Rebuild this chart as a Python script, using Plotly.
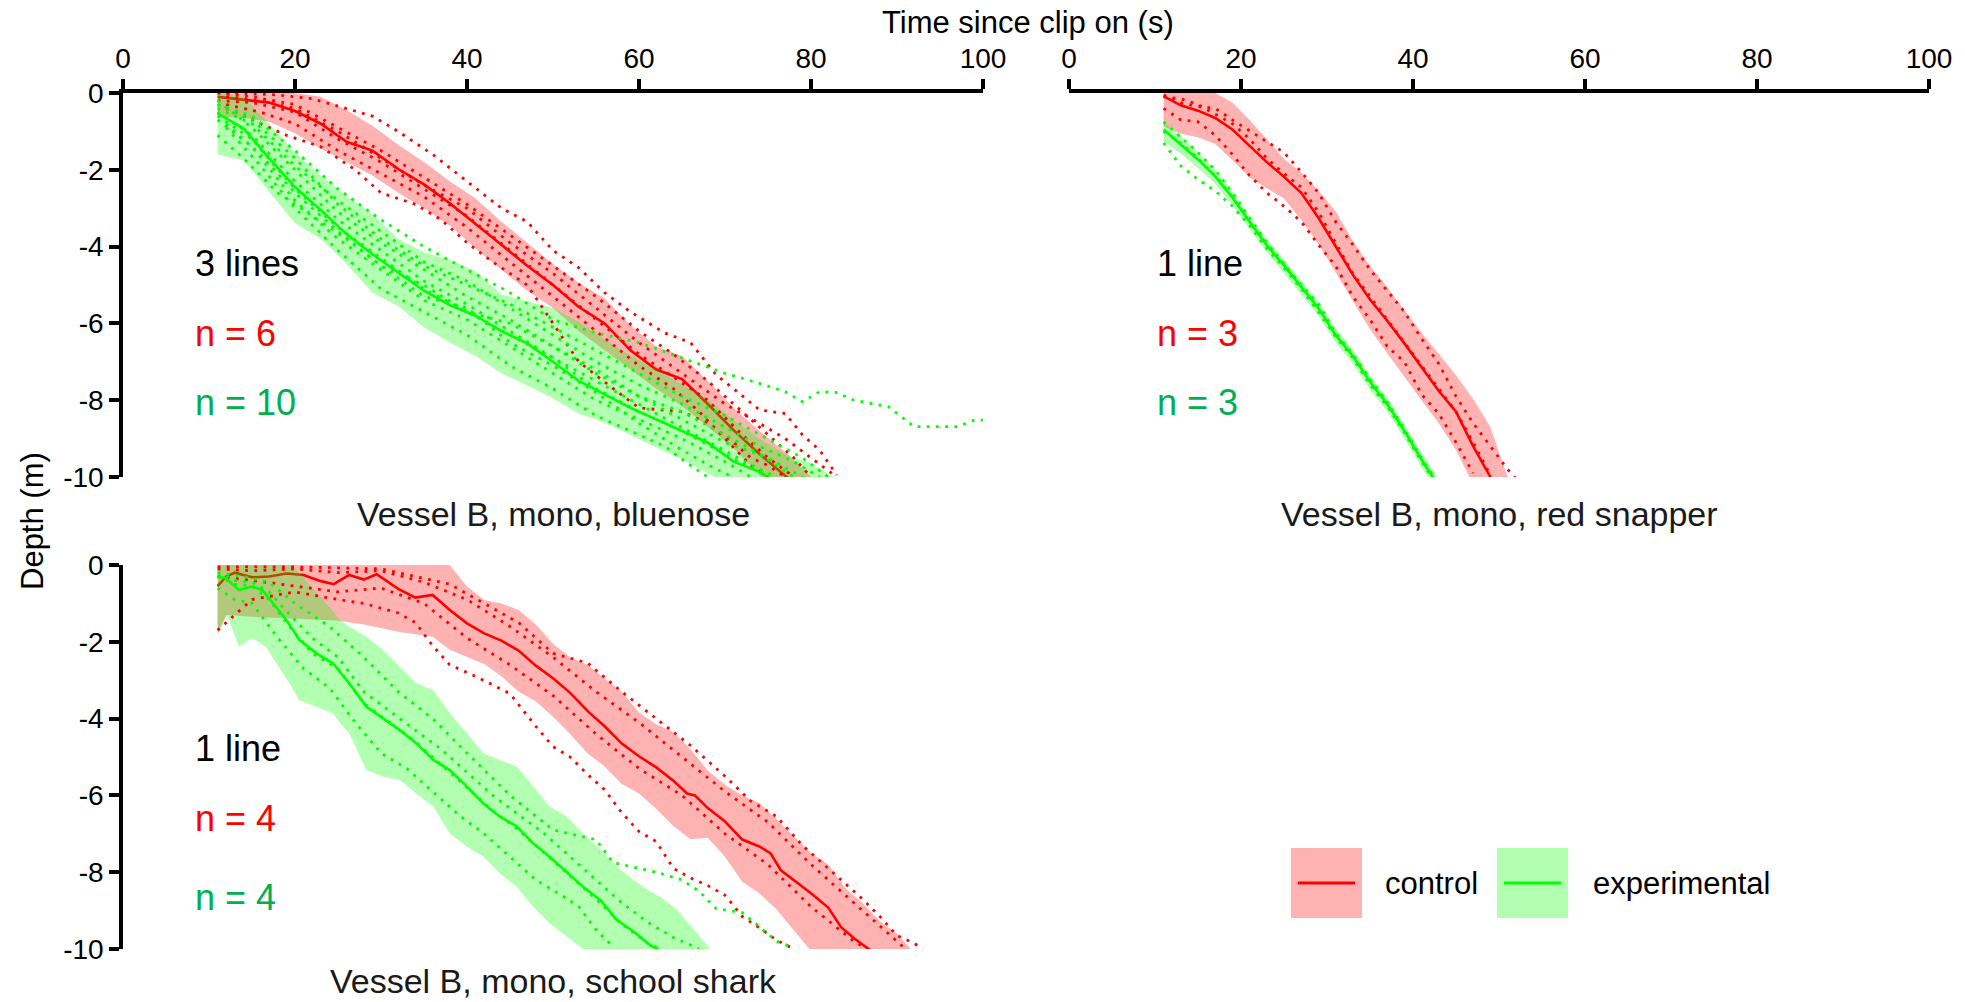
import plotly.graph_objects as go

W, H = 1965, 1002
RED = "#ff0000"
GREEN = "#00ff00"
RED_FILL = "rgba(255,0,0,0.3)"
GREEN_FILL = "rgba(0,255,0,0.3)"
TXT_GREEN = "#00b050"
FONT = "Arial, Liberation Sans, sans-serif"

x_ticks = [0, 20, 40, 60, 80, 100]
y_ticks = [0, -2, -4, -6, -8, -10]
y_tick_text = ["0", "-2", "-4", "-6", "-8", "-10"]

# ---------------- Panel 1: bluenose ----------------
p1_t = [11, 14, 17, 20, 23, 26, 29, 32, 35, 38, 41, 44, 47, 50, 53, 56, 59, 62, 65, 68, 71, 74, 77, 80]
p1_ctrl_mean = [-0.1, -0.18, -0.25, -0.47, -0.8, -1.27, -1.5, -1.98, -2.38, -2.87, -3.4, -3.95, -4.5, -5.0, -5.57, -6.0, -6.7, -7.2, -7.45, -8.1, -8.78, -9.4, -9.97, -10.5]
p1_ctrl_hi = [0, 0, 0, 0, -0.1, -0.45, -0.85, -1.35, -1.8, -2.3, -2.75, -3.35, -3.9, -4.45, -4.95, -5.35, -6.05, -6.6, -6.85, -7.5, -8.2, -8.8, -9.35, -10.0]
p1_ctrl_lo = [-0.62, -0.65, -0.75, -1.05, -1.45, -1.8, -2.15, -2.6, -3.0, -3.45, -4.05, -4.6, -5.15, -5.6, -6.2, -6.7, -7.2, -7.7, -8.15, -8.7, -9.25, -9.95, -10.6, -11.0]

p1e_t = [11, 14, 17, 20, 23, 26, 29, 32, 35, 38, 41, 44, 47, 50, 53, 56, 59, 62, 65, 68, 71, 74, 77, 80, 83]
p1_exp_mean = [-0.53, -0.92, -1.7, -2.45, -3.05, -3.68, -4.2, -4.68, -5.15, -5.52, -5.8, -6.2, -6.52, -7.0, -7.5, -7.85, -8.2, -8.5, -8.8, -9.1, -9.6, -9.86, -10.3, -10.6, -11.0]
p1_exp_hi = [0, -0.1, -0.8, -1.55, -2.15, -2.68, -3.15, -3.8, -4.15, -4.35, -4.65, -5.25, -5.42, -5.6, -5.95, -6.42, -6.82, -7.22, -7.6, -7.97, -8.52, -9.0, -9.4, -9.65, -10.05]
p1_exp_lo = [-1.6, -1.75, -2.57, -3.39, -3.8, -4.45, -5.2, -5.55, -6.1, -6.5, -6.85, -7.3, -7.62, -7.95, -8.35, -8.58, -8.9, -9.22, -9.55, -9.9, -10.3, -10.6, -11.0, -11.2, -11.5]

p1_ctrl_ind = [
    ([12, 18, 22, 26, 29, 32, 36, 40, 44, 47, 50, 53, 56, 59, 63, 66, 69, 71, 74, 77, 79, 81, 83],
     [0, -0.05, -0.15, -0.4, -0.6, -1.0, -1.6, -2.3, -3.0, -3.35, -4.1, -4.55, -5.2, -5.7, -6.25, -6.5, -7.35, -7.7, -8.25, -8.35, -8.9, -9.3, -9.95]),
    ([12, 16, 19, 23, 27, 30, 34, 37, 40, 43, 47, 50, 53, 57, 60, 65, 68, 71, 73, 75, 77],
     [-0.4, -0.8, -1.1, -1.4, -2.0, -2.6, -2.9, -3.3, -3.9, -4.4, -5.0, -6.0, -7.0, -7.7, -8.2, -8.3, -8.6, -9.1, -9.5, -9.7, -10.0]),
    ([11, 15, 20, 25, 30, 35, 40, 45, 50, 55, 60, 64, 68, 72, 75, 78, 80],
     [0, -0.1, -0.3, -0.9, -1.5, -2.2, -2.9, -3.7, -4.5, -5.3, -6.2, -6.8, -7.5, -8.3, -8.9, -9.5, -10.0]),
    ([11, 15, 20, 25, 30, 35, 40, 45, 50, 55, 60, 64, 68, 72, 75, 78],
     [-0.2, -0.25, -0.5, -1.2, -1.8, -2.5, -3.2, -4.1, -5.0, -5.9, -6.8, -7.4, -8.0, -8.9, -9.5, -10.0]),
    ([12, 16, 20, 25, 30, 35, 40, 45, 50, 55, 60, 64, 67, 70, 73, 75],
     [-0.3, -0.5, -0.8, -1.5, -2.1, -2.7, -3.5, -4.4, -5.3, -6.2, -7.1, -7.7, -8.3, -9.0, -9.7, -10.0]),
    ([12, 16, 20, 25, 30, 35, 40, 45, 50, 55, 60, 65, 70, 74, 77, 80, 83],
     [-0.1, -0.2, -0.4, -1.0, -1.7, -2.4, -3.0, -3.9, -4.7, -5.6, -6.5, -7.3, -8.1, -8.6, -9.0, -9.5, -10.0]),
]
p1_exp_ind = [
    ([11, 15, 20, 25, 30, 35, 40, 45, 50, 55, 60, 65, 70, 74, 77, 79, 81, 83, 85, 89, 91, 92, 97, 99, 100],
     [-0.3, -0.6, -1.5, -2.5, -3.3, -4.0, -4.6, -5.2, -5.9, -6.25, -6.5, -6.9, -7.3, -7.56, -7.78, -8.04, -7.78, -7.8, -8.0, -8.17, -8.52, -8.69, -8.69, -8.52, -8.52]),
    ([11, 15, 20, 25, 30, 35, 40, 45, 50, 55, 60, 65, 70, 74, 78, 81],
     [-0.4, -0.8, -1.9, -2.8, -3.6, -4.4, -4.9, -5.6, -6.3, -7.0, -7.6, -8.1, -8.7, -9.2, -9.6, -10.0]),
    ([11, 15, 20, 25, 30, 35, 40, 45, 50, 55, 60, 65, 70, 74, 76],
     [-0.5, -1.1, -2.3, -3.3, -4.1, -4.9, -5.5, -6.2, -6.9, -7.5, -8.1, -8.7, -9.3, -9.8, -10.0]),
    ([11, 15, 20, 25, 30, 35, 40, 45, 50, 55, 60, 65, 70, 73],
     [-0.7, -1.4, -2.8, -3.8, -4.6, -5.4, -5.9, -6.6, -7.3, -8.0, -8.5, -9.0, -9.6, -10.0]),
    ([12, 16, 20, 25, 30, 35, 40, 45, 50, 55, 60, 63, 66, 68],
     [-0.9, -1.9, -3.0, -4.1, -5.1, -5.7, -6.3, -7.1, -7.7, -8.4, -8.9, -9.2, -9.7, -10.0]),
    ([11, 15, 20, 25, 30, 35, 40, 45, 50, 55, 60, 65, 70, 75],
     [-0.6, -1.2, -2.5, -3.5, -4.3, -5.1, -5.7, -6.3, -6.9, -7.7, -8.3, -8.8, -9.4, -10.0]),
    ([11, 15, 20, 25, 30, 35, 40, 45, 50, 55, 60, 65, 70, 75, 79],
     [-0.2, -0.9, -2.0, -3.1, -3.9, -4.6, -5.3, -5.9, -6.6, -7.2, -7.9, -8.5, -9.1, -9.5, -10.0]),
    ([12, 16, 20, 25, 30, 35, 40, 45, 50, 55, 60, 65, 69, 71],
     [-0.8, -1.6, -2.6, -3.6, -4.5, -5.3, -5.6, -6.5, -7.1, -7.8, -8.6, -9.3, -9.8, -10.0]),
    ([11, 15, 20, 25, 30, 35, 40, 45, 50, 55, 60, 65, 70, 75, 79, 82],
     [-0.3, -0.7, -1.7, -2.9, -3.8, -4.5, -5.0, -5.5, -6.1, -6.7, -7.3, -7.9, -8.4, -9.0, -9.5, -10.0]),
    ([11, 14, 18, 22, 26, 30, 35, 40, 45, 50, 55, 60, 65, 70, 74, 78],
     [-1.1, -1.7, -2.6, -3.2, -3.8, -4.5, -5.0, -5.7, -6.0, -6.6, -7.3, -7.9, -8.3, -8.9, -9.4, -10.0]),
]

# ---------------- Panel 2: red snapper ----------------
p2_t = [11, 13, 15, 17, 19, 21, 23, 25, 27, 29, 31, 33, 35, 37, 39, 41, 43, 45, 47, 49, 51]
p2_ctrl_mean = [-0.08, -0.32, -0.46, -0.65, -0.95, -1.37, -1.8, -2.18, -2.6, -3.25, -4.0, -4.73, -5.38, -5.93, -6.52, -7.15, -7.76, -8.3, -9.2, -10.0, -10.9]
p2_ctrl_hi = [0, 0, 0, 0, -0.25, -0.7, -1.2, -1.72, -2.07, -2.54, -3.08, -3.85, -4.5, -5.05, -5.65, -6.25, -6.8, -7.35, -7.97, -8.7, -10.0]
p2_ctrl_lo = [-0.87, -1.06, -1.15, -1.33, -1.75, -2.2, -2.48, -2.75, -3.3, -3.93, -4.65, -5.4, -6.15, -6.78, -7.4, -8.0, -8.6, -9.3, -10.2, -11.0, -11.8]

p2e_t = [11, 13, 15, 17, 19, 21, 23, 25, 27, 29, 31, 33, 35, 37, 39, 41, 43]
p2_exp_mean = [-0.95, -1.33, -1.73, -2.17, -2.72, -3.35, -3.97, -4.49, -5.04, -5.6, -6.3, -6.85, -7.52, -8.1, -8.8, -9.55, -10.25]
p2_exp_hi = [-0.75, -1.12, -1.55, -2.0, -2.55, -3.2, -3.8, -4.32, -4.88, -5.42, -6.12, -6.68, -7.35, -7.93, -8.62, -9.38, -10.05]
p2_exp_lo = [-1.25, -1.58, -1.95, -2.37, -2.92, -3.55, -4.15, -4.68, -5.24, -5.8, -6.5, -7.05, -7.72, -8.3, -9.0, -9.75, -10.45]

p2_ctrl_ind = [
    ([11, 13, 15, 17, 19, 22, 25, 27, 29, 31, 33, 35, 37, 39, 41, 43, 45, 47, 49, 51, 52],
     [-0.05, -0.25, -0.35, -0.4, -0.7, -1.13, -1.55, -2.05, -2.6, -3.35, -3.95, -4.6, -5.15, -5.7, -6.4, -7.05, -7.9, -8.6, -9.2, -9.8, -10.05]),
    ([11, 13, 15, 17, 19, 21, 23, 25, 27, 29, 31, 33, 35, 37, 39, 41, 43, 45, 47],
     [-0.4, -0.7, -0.75, -1.1, -1.6, -2.15, -2.6, -2.95, -3.35, -3.95, -4.5, -5.3, -5.9, -6.6, -7.0, -7.85, -8.35, -9.1, -9.9]),
    ([11, 13, 15, 17, 19, 21, 23, 25, 27, 29, 31, 33, 35, 37, 39, 41, 43, 45, 47, 49],
     [-0.1, -0.15, -0.3, -0.55, -0.8, -1.2, -1.7, -2.1, -2.45, -3.1, -3.9, -4.7, -5.3, -5.9, -6.5, -7.1, -7.7, -8.3, -9.1, -9.95]),
]
p2_exp_ind = [
    (p2e_t, [-0.75, -1.15, -1.55, -2.0, -2.6, -3.25, -3.9, -4.45, -5.0, -5.5, -6.25, -6.8, -7.45, -8.05, -8.75, -9.5, -10.2]),
    (p2e_t, [-1.0, -1.3, -1.7, -2.15, -2.7, -3.35, -3.95, -4.5, -5.05, -5.65, -6.3, -6.85, -7.55, -8.12, -8.8, -9.55, -10.25]),
    (p2e_t, [-1.3, -1.9, -2.25, -2.55, -2.95, -3.45, -4.05, -4.55, -5.1, -5.7, -6.35, -6.9, -7.6, -8.15, -8.85, -9.6, -10.3]),
]

# ---------------- Panel 3: school shark ----------------
p3_mt = [11, 12, 13, 15, 17, 19, 21, 23, 24.5, 26.3, 28, 29.5, 32, 34, 36, 38, 40, 42, 44, 46, 48, 50, 52, 54, 56, 58, 60, 62, 64, 65.6, 66.5, 68, 70, 72, 74, 75.3, 76.5, 78, 80, 82, 83.5, 85, 86.7, 90]
p3_ctrl_mean = [-0.55, -0.3, -0.2, -0.32, -0.3, -0.22, -0.26, -0.42, -0.5, -0.26, -0.38, -0.24, -0.62, -0.85, -0.78, -1.17, -1.52, -1.78, -1.97, -2.23, -2.62, -2.95, -3.33, -3.8, -4.2, -4.65, -4.98, -5.27, -5.62, -5.95, -6.0, -6.33, -6.68, -7.15, -7.33, -7.51, -7.95, -8.2, -8.55, -8.92, -9.43, -9.72, -10.0, -10.5]
p3_bt = [11, 12, 15, 20, 25, 28, 32, 36, 38, 40, 42, 44, 46, 48, 50, 52, 54, 56, 58, 60, 62, 64, 66, 68, 70, 72, 74, 76, 78, 80, 82, 84, 86, 88, 90, 92]
p3_ctrl_hi = [0, 0, 0, 0, 0, 0, 0, 0, 0, -0.56, -0.91, -1.0, -1.17, -1.55, -2.05, -2.4, -2.6, -2.95, -3.3, -3.85, -4.15, -4.35, -4.8, -5.35, -5.72, -6.0, -6.2, -6.62, -7.07, -7.5, -7.8, -8.42, -8.81, -9.27, -9.6, -10.1]
p3_ctrl_lo = [-1.78, -1.3, -1.35, -1.4, -1.45, -1.55, -1.74, -1.87, -2.21, -2.4, -2.58, -2.9, -3.3, -3.55, -3.95, -4.4, -4.9, -5.25, -5.7, -5.95, -6.35, -6.8, -7.14, -7.1, -7.6, -8.25, -8.55, -8.97, -9.5, -10.05, -10.5, -10.9, -11.3, -11.7, -12.0, -12.4]

p3_emt = [11, 12, 13.5, 15, 16.2, 17.8, 19, 20.5, 22.5, 24.4, 26.3, 28.3, 29.4, 32.2, 34.1, 36.1, 38, 40, 41.9, 43.8, 45.8, 47.7, 49.6, 51.6, 53.5, 55.5, 57.4, 59.4, 61.3, 62.1, 65]
p3_exp_mean = [-0.3, -0.35, -0.65, -0.56, -0.65, -1.09, -1.43, -1.95, -2.3, -2.56, -3.08, -3.69, -3.86, -4.3, -4.64, -5.08, -5.34, -5.77, -6.21, -6.55, -6.81, -7.25, -7.6, -8.0, -8.38, -8.72, -9.24, -9.55, -9.9, -10.0, -10.5]
p3_ebt = [11, 12.1, 13.5, 15, 16.6, 18.6, 19.7, 20.5, 22.5, 24.4, 25.2, 26.3, 28.3, 30.2, 32.2, 34.1, 36.1, 38, 40, 41.9, 43.8, 45.8, 47.7, 49.6, 51.6, 53.5, 55.5, 57.4, 59.4, 61.3, 62.5, 64.4, 66.4, 68.3]
p3_exp_hi = [0, 0, 0, 0, 0, 0, 0, -0.2, -0.7, -1.2, -1.43, -1.6, -1.87, -2.21, -2.65, -3.08, -3.26, -3.86, -4.38, -4.9, -5.08, -5.25, -5.77, -6.29, -6.55, -6.99, -7.4, -7.86, -8.2, -8.5, -8.64, -8.98, -9.5, -10.0]
p3_exp_lo = [-1.82, -1.3, -2.13, -1.9, -2.13, -2.82, -3.2, -3.52, -3.69, -3.86, -4.1, -4.38, -5.34, -5.51, -5.6, -5.95, -6.29, -6.99, -7.34, -7.6, -8.03, -8.38, -8.9, -9.33, -9.68, -10.0, -10.4, -10.7, -11.0, -11.3, -11.4, -11.7, -12.0, -12.3]

p3_ctrl_ind = [
    ([11, 20, 30, 38, 42, 46, 50, 54, 58, 62, 66, 70, 73, 76, 79, 82, 84, 86, 88, 90, 92, 93],
     [-0.05, -0.05, -0.1, -0.5, -1.0, -1.5, -2.3, -2.55, -3.3, -4.0, -4.7, -5.5, -6.15, -6.55, -7.3, -7.9, -8.3, -8.7, -9.15, -9.65, -9.85, -10.0]),
    ([11, 15, 20, 25, 28, 32, 34, 36, 38, 41, 45, 48, 50, 52, 54, 56, 58, 60, 62, 64, 66, 68, 70, 72, 74, 76, 78],
     [-1.7, -0.9, -0.7, -0.9, -1.0, -1.25, -1.5, -2.1, -2.6, -2.9, -3.35, -4.2, -4.73, -5.0, -5.45, -5.85, -6.45, -6.94, -7.2, -7.9, -8.15, -8.35, -8.6, -9.15, -9.45, -9.77, -10.0]),
    ([11, 15, 20, 25, 30, 35, 40, 45, 50, 55, 60, 65, 70, 75, 80, 84, 88, 91],
     [-0.1, -0.15, -0.1, -0.2, -0.15, -0.45, -0.9, -1.6, -2.4, -3.3, -4.1, -5.0, -5.9, -6.7, -7.8, -8.6, -9.4, -10.0]),
    ([11, 15, 20, 25, 30, 35, 40, 45, 50, 55, 60, 65, 70, 75, 80, 85, 88],
     [-0.3, -0.4, -0.55, -0.7, -0.6, -1.0, -1.9, -2.6, -3.4, -4.4, -5.3, -6.0, -7.0, -7.8, -8.9, -9.8, -10.2]),
]
p3_exp_ind = [
    ([11, 14, 17, 20, 24, 28, 32, 36, 40, 45, 50, 55, 57, 60, 62, 65, 67, 69, 72, 74, 76, 78],
     [-0.2, -0.3, -0.45, -1.0, -1.6, -2.4, -3.3, -4.0, -4.9, -6.0, -6.9, -7.15, -7.75, -7.9, -8.0, -8.2, -8.5, -8.95, -9.05, -9.42, -9.8, -9.97]),
    ([11, 13, 15, 18, 21, 24, 27, 30, 33, 36, 39, 42, 45, 48, 51, 53, 55, 57],
     [-0.6, -0.9, -1.0, -1.9, -2.7, -3.2, -4.1, -4.9, -5.3, -5.9, -6.5, -7.0, -7.6, -8.2, -8.6, -8.9, -9.5, -9.95]),
    ([11, 13, 15, 17, 19, 22, 25, 28, 31, 34, 37, 40, 43, 46, 49, 52, 55, 58, 61, 63],
     [-0.3, -0.5, -0.55, -0.9, -1.5, -2.3, -2.7, -3.6, -4.1, -4.6, -5.2, -5.8, -6.4, -6.9, -7.5, -8.1, -8.7, -9.35, -9.85, -10.05]),
    ([11, 13, 15, 17, 19, 22, 25, 28, 31, 34, 37, 40, 43, 46, 49, 52, 55, 58, 61, 64, 67],
     [-0.2, -0.4, -0.45, -0.7, -1.2, -1.9, -2.4, -3.3, -3.8, -4.3, -4.8, -5.4, -6.0, -6.5, -7.0, -7.6, -8.2, -8.8, -9.3, -9.7, -10.0]),
]

# panel labels
panel_titles = ["Vessel B, mono, bluenose", "Vessel B, mono, red snapper", "Vessel B, mono, school shark"]
line_labels = ["3 lines", "1 line", "1 line"]
n_ctrl = ["n = 6", "n = 3", "n = 4"]
n_exp = ["n = 10", "n = 3", "n = 4"]
label_x = [8.1, 10.0, 8.1]
label_y = [[-4.43, -6.25, -8.05], [-4.43, -6.25, -8.05], [-4.77, -6.59, -8.67]]

fig = go.Figure()


def band(t, hi, lo, color, xa, ya):
    fig.add_trace(go.Scatter(x=list(t) + list(t)[::-1], y=list(hi) + list(lo)[::-1],
                             fill="toself", fillcolor=color, line=dict(width=0),
                             mode="lines", hoverinfo="skip", showlegend=False, xaxis=xa, yaxis=ya))


def mean_line(t, m, color, xa, ya):
    fig.add_trace(go.Scatter(x=t, y=m, mode="lines", line=dict(color=color, width=2.6),
                             showlegend=False, xaxis=xa, yaxis=ya))


def indiv(traces, color, xa, ya):
    for t, d in traces:
        fig.add_trace(go.Scatter(x=t, y=d, mode="lines",
                                 line=dict(color=color, width=2.8, dash="2.8px,6.4px"),
                                 showlegend=False, xaxis=xa, yaxis=ya))


panels = [
    ("x", "y", p1_t, p1_ctrl_mean, p1_ctrl_hi, p1_ctrl_lo, p1_t, p1_ctrl_ind,
     p1e_t, p1_exp_mean, p1e_t, p1_exp_hi, p1_exp_lo, p1_exp_ind),
    ("x2", "y2", p2_t, p2_ctrl_mean, p2_ctrl_hi, p2_ctrl_lo, p2_t, p2_ctrl_ind,
     p2e_t, p2_exp_mean, p2e_t, p2_exp_hi, p2_exp_lo, p2_exp_ind),
    ("x3", "y3", p3_mt, p3_ctrl_mean, p3_ctrl_hi, p3_ctrl_lo, p3_bt, p3_ctrl_ind,
     p3_emt, p3_exp_mean, p3_ebt, p3_exp_hi, p3_exp_lo, p3_exp_ind),
]
for (xa, ya, ct, cm, chi, clo, cbt, cind, et, em, ebt, ehi, elo, eind) in panels:
    band(cbt, chi, clo, RED_FILL, xa, ya)
    mean_line(ct, cm, RED, xa, ya)
    band(ebt, ehi, elo, GREEN_FILL, xa, ya)
    indiv(cind, RED, xa, ya)
    indiv(eind, GREEN, xa, ya)
    mean_line(et, em, GREEN, xa, ya)


def px_x(v):
    return v / W


def px_y(v):
    return 1 - v / H


X1 = [px_x(123), px_x(983)]
X2 = [px_x(1069), px_x(1929)]
Y1 = [px_y(477), px_y(93)]
Y3 = [px_y(949), px_y(565)]

axis_common = dict(range=[0, 100], showgrid=False, zeroline=False, showline=True, linecolor="black",
                   linewidth=3.6, ticks="outside", ticklen=10, tickwidth=3.6, tickcolor="black",
                   tickvals=x_ticks, tickfont=dict(size=28, color="black", family=FONT), side="top",
                   automargin=False)
yaxis_common = dict(range=[-10, 0], showgrid=False, zeroline=False, showline=True, linecolor="black",
                    linewidth=3.6, ticks="outside", ticklen=10, tickwidth=3.6, tickcolor="black",
                    tickvals=y_ticks, ticktext=y_tick_text, tickfont=dict(size=28, color="black", family=FONT),
                    automargin=False)

fig.update_layout(
    width=W, height=H, margin=dict(l=0, r=0, t=0, b=0, pad=0), autosize=False,
    paper_bgcolor="white", plot_bgcolor="rgba(0,0,0,0)",
    font=dict(family=FONT, color="black"),
    xaxis=dict(domain=X1, anchor="y", **axis_common),
    yaxis=dict(domain=Y1, anchor="x", **yaxis_common),
    xaxis2=dict(domain=X2, anchor="y2", **axis_common),
    yaxis2=dict(domain=Y1, anchor="x2", range=[-10, 0], visible=False),
    xaxis3=dict(domain=X1, anchor="y3", range=[0, 100], visible=False),
    yaxis3=dict(domain=Y3, anchor="x3", **yaxis_common),
)

ann = []
ann.append(dict(text="Time since clip on (s)", x=px_x(1028), y=px_y(22), xref="paper", yref="paper",
                xanchor="center", yanchor="middle", showarrow=False, font=dict(size=31, color="black")))
ann.append(dict(text="Depth (m)", x=px_x(32), y=px_y(521), xref="paper", yref="paper", textangle=-90,
                xanchor="center", yanchor="middle", showarrow=False, font=dict(size=31, color="black")))
title_pos = [(553, 514), (1499, 514), (553, 981)]
for (tx, ty), title in zip(title_pos, panel_titles):
    ann.append(dict(text=title, x=px_x(tx), y=px_y(ty), xref="paper", yref="paper",
                    xanchor="center", yanchor="middle",
                    showarrow=False, font=dict(size=34, color="#1a1a1a")))
refs = [("x", "y"), ("x2", "y2"), ("x3", "y3")]
for i, (xr, yr) in enumerate(refs):
    for txt, yy, col in zip([line_labels[i], n_ctrl[i], n_exp[i]], label_y[i], ["black", RED, TXT_GREEN]):
        ann.append(dict(text=txt, x=label_x[i], y=yy, xref=xr, yref=yr, xanchor="left", yanchor="middle",
                        showarrow=False, font=dict(size=36, color=col)))

# legend (bottom right)
leg_y = 883
ann.append(dict(text="control", x=px_x(1383), y=px_y(leg_y), xref="paper", yref="paper", xanchor="left",
                yanchor="middle", showarrow=False, font=dict(size=31, color="black")))
ann.append(dict(text="experimental", x=px_x(1591), y=px_y(leg_y), xref="paper", yref="paper", xanchor="left",
                yanchor="middle", showarrow=False, font=dict(size=31, color="black")))
shapes = []
for x0, fillc, linec in [(1291, RED_FILL, RED), (1497, GREEN_FILL, GREEN)]:
    shapes.append(dict(type="rect", xref="paper", yref="paper", x0=px_x(x0), x1=px_x(x0 + 71),
                       y0=px_y(leg_y + 35), y1=px_y(leg_y - 35), fillcolor=fillc, line=dict(width=0)))
    shapes.append(dict(type="line", xref="paper", yref="paper", x0=px_x(x0 + 7), x1=px_x(x0 + 64),
                       y0=px_y(leg_y), y1=px_y(leg_y), line=dict(color=linec, width=3)))
fig.update_layout(annotations=ann, shapes=shapes)

fig.write_html("out.html", config={"displayModeBar": False},
               post_script="document.body.style.margin='0';document.body.style.overflow='hidden';")
